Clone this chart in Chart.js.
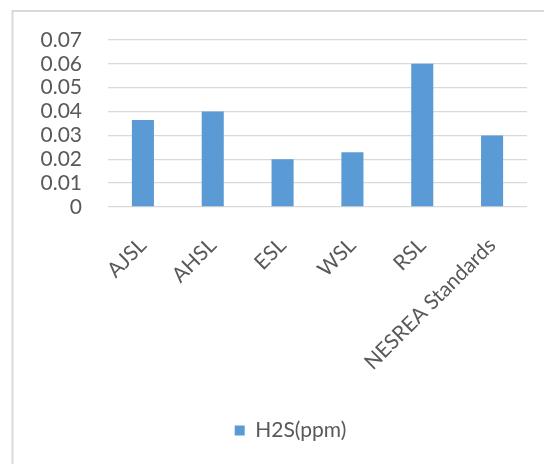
<!DOCTYPE html>
<html>
<head>
<meta charset="utf-8">
<script src="https://cdn.jsdelivr.net/npm/chart.js@4/dist/chart.umd.min.js"></script>
<style>
  html, body { margin: 0; padding: 0; background: #ffffff; }
  #wrap { width: 544px; height: 464px; position: relative; }
</style>
</head>
<body>
<div id="wrap"><canvas id="c" width="544" height="464"></canvas></div>
<script>
// Sampling sites and the reference standard
const categories = ['AJSL', 'AHSL', 'ESL', 'WSL', 'RSL', 'NESREA Standards'];
// Hydrogen sulphide concentration (ppm)
const h2sValues = [0.0365, 0.04, 0.02, 0.023, 0.06, 0.03];
const seriesName = 'H2S(ppm)';
const yTickLabels = ['0', '0.01', '0.02', '0.03', '0.04', '0.05', '0.06', '0.07'];

const textColor = '#595959';
const gridColor = '#d9d9d9';
const barColor = '#5b9bd5';
const fontFamily = 'Lato, "Liberation Sans", sans-serif';

// White page with the light frame on the top and left edges
const framePlugin = {
  id: 'frame',
  beforeDraw(chart) {
    const ctx = chart.ctx;
    ctx.save();
    ctx.fillStyle = '#ffffff';
    ctx.fillRect(0, 0, chart.width, chart.height);
    ctx.strokeStyle = '#d9d9d9';
    ctx.lineWidth = 2;
    ctx.beginPath();
    ctx.moveTo(12.5, chart.height);
    ctx.lineTo(12.5, 11);
    ctx.lineTo(chart.width, 11);
    ctx.stroke();
    ctx.restore();
  }
};

// Centre the legend under the framed area rather than the whole canvas
const legendShift = {
  id: 'legendShift',
  afterLayout(chart) {
    const lg = chart.legend;
    if (lg) {
      lg.left += 12;
      lg.right += 12;
      if (lg.legendHitBoxes) lg.legendHitBoxes.forEach(b => { b.left += 12; });
    }
  }
};

new Chart(document.getElementById('c'), {
  type: 'bar',
  data: {
    labels: categories,
    datasets: [{
      label: seriesName,
      data: h2sValues,
      backgroundColor: barColor,
      borderWidth: 0,
      categoryPercentage: 1.0,
      barPercentage: 0.316
    }]
  },
  options: {
    responsive: false,
    animation: false,
    devicePixelRatio: 1,
    layout: { padding: { top: 40, right: 17, left: 30, bottom: 13 } },
    plugins: {
      legend: {
        position: 'bottom',
        labels: {
          boxWidth: 10,
          boxHeight: 10,
          padding: 10,
          color: textColor,
          font: { family: fontFamily, size: 21 }
        }
      },
      tooltip: { enabled: false }
    },
    scales: {
      x: {
        grid: { display: false, drawTicks: false },
        border: { display: false },
        ticks: {
          autoSkip: false,
          minRotation: 45,
          maxRotation: 45,
          padding: 26,
          color: textColor,
          font: { family: fontFamily, size: 21 }
        },
        afterFit(scale) { scale.height = 203; }
      },
      y: {
        min: 0,
        max: 0.07,
        grid: { color: gridColor, lineWidth: 1.3, drawTicks: false },
        border: { display: false },
        ticks: {
          stepSize: 0.01,
          autoSkip: false,
          padding: 26,
          color: textColor,
          font: { family: fontFamily, size: 21 },
          callback: (value) => yTickLabels[Math.round(value * 100)]
        },
        afterFit(scale) { scale.width = 78; }
      }
    }
  },
  plugins: [framePlugin, legendShift]
});
</script>
</body>
</html>
